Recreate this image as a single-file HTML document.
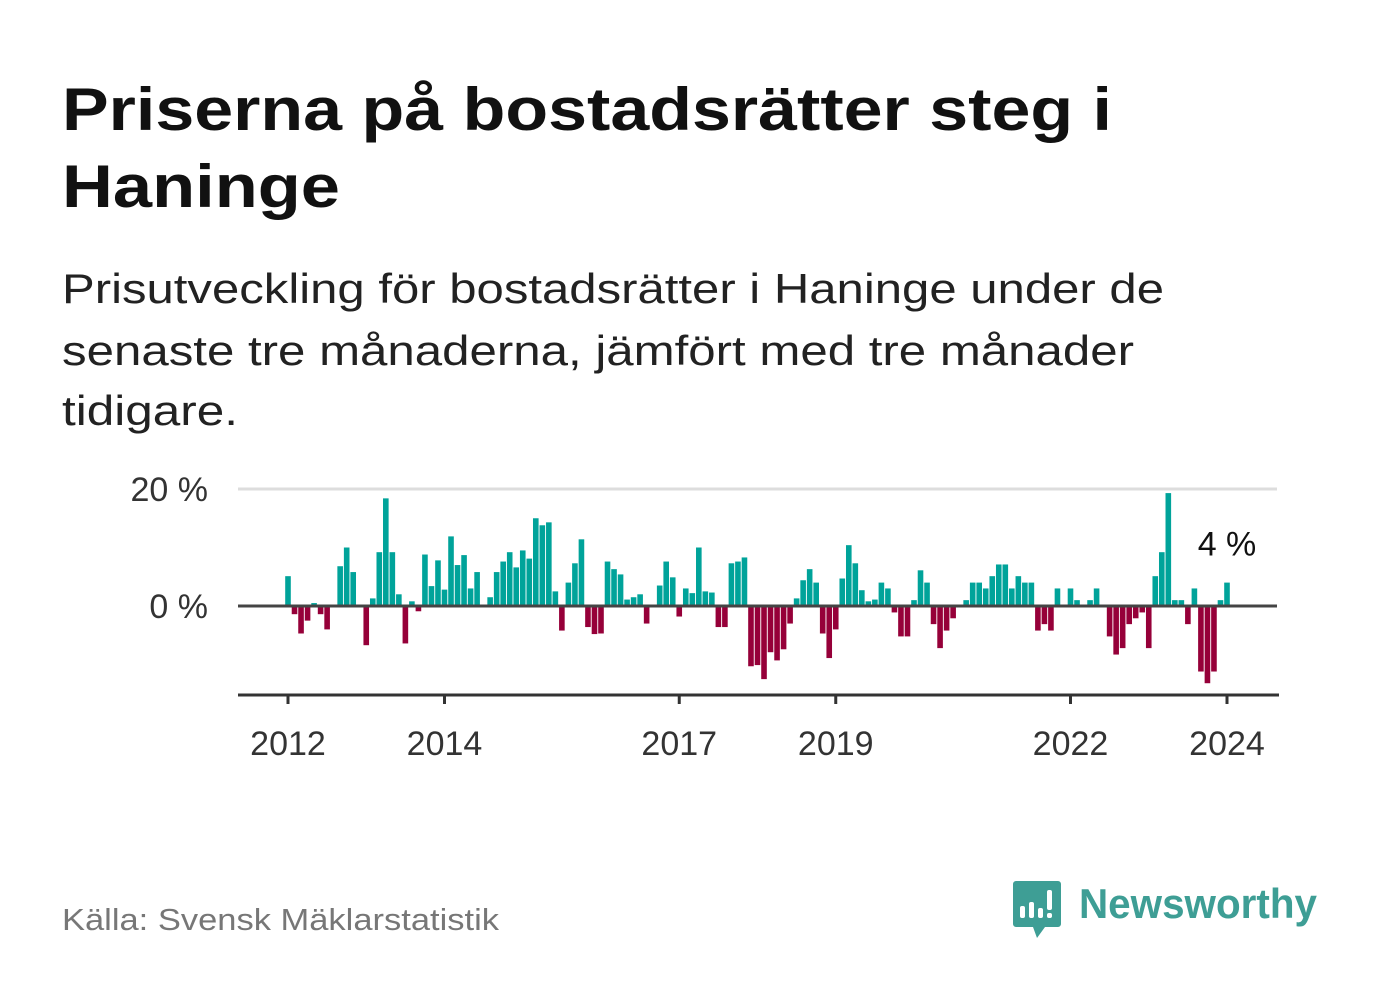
<!DOCTYPE html>
<html><head><meta charset="utf-8"><style>
html,body{margin:0;padding:0;background:#fff;}
svg{display:block;font-family:"Liberation Sans",sans-serif;}
</style></head><body>
<svg id="chart" width="1382" height="999" viewBox="0 0 1382 999">
<text x="62" y="130" font-size="60" font-weight="bold" fill="#111" textLength="1050" lengthAdjust="spacingAndGlyphs">Priserna på bostadsrätter steg i</text>
<text x="62" y="207" font-size="60" font-weight="bold" fill="#111" textLength="278" lengthAdjust="spacingAndGlyphs">Haninge</text>
<text x="62" y="303" font-size="42" fill="#222" textLength="1102" lengthAdjust="spacingAndGlyphs">Prisutveckling för bostadsrätter i Haninge under de</text>
<text x="62" y="365" font-size="42" fill="#222" textLength="1072" lengthAdjust="spacingAndGlyphs">senaste tre månaderna, jämfört med tre månader</text>
<text x="62" y="425" font-size="42" fill="#222" textLength="176" lengthAdjust="spacingAndGlyphs">tidigare.</text>
<g id="plot"></g>
<text x="62" y="930" font-size="31" fill="#777" textLength="437" lengthAdjust="spacingAndGlyphs">Källa: Svensk Mäklarstatistik</text>
<g>
<path d="M1016 881 h42 a3 3 0 0 1 3 3 v40 a3 3 0 0 1 -3 3 h-13 l-8 11 l-4 -11 h-17 a3 3 0 0 1 -3 -3 v-40 a3 3 0 0 1 3 -3z" fill="#3e9e95"/>
<rect x="1020" y="906" width="5" height="12" rx="2" fill="#fff"/>
<rect x="1029" y="902" width="5" height="16" rx="2" fill="#fff"/>
<rect x="1038" y="908" width="5" height="10" rx="2" fill="#fff"/>
<rect x="1047" y="890" width="5" height="20" rx="2" fill="#fff"/>
<rect x="1047" y="913" width="5" height="5" rx="2" fill="#fff"/>
<text x="1079" y="918" font-size="42" font-weight="bold" fill="#3e9e95" textLength="238" lengthAdjust="spacingAndGlyphs">Newsworthy</text>
</g>
</svg>
<script>
const values = [5.1,-1.4,-4.7,-2.5,0.5,-1.4,-4,0,6.8,10,5.8,0,
-6.7,1.3,9.2,18.4,9.2,2,-6.4,0.8,-0.9,8.8,3.4,7.8,
2.8,11.9,7,8.7,3,5.8,0,1.5,5.8,7.6,9.2,6.6,
9.5,8.1,15,13.8,14.3,2.5,-4.2,4,7.3,11.4,-3.6,-4.8,
-4.7,7.6,6.3,5.4,1.1,1.5,2,-3,0,3.5,7.6,4.9,
-1.8,3,2.2,10,2.5,2.3,-3.6,-3.6,7.3,7.6,8.3,-10.3,
-10.1,-12.5,-7.9,-9.3,-7.4,-3,1.3,4.4,6.3,4,-4.7,-8.9,
-4,4.7,10.4,7.3,2.7,0.8,1.1,4,3,-1.1,-5.2,-5.2,
1,6.1,4,-3.1,-7.2,-4.2,-2.1,0,1,4,4,3,
5.1,7.1,7.1,3,5.1,4,4,-4.2,-3.1,-4.2,3,0,
3,1,0,1,3,0,-5.2,-8.3,-7.2,-3.1,-2.1,-1.1,
-7.2,5.1,9.2,19.3,1,1,-3.1,3,-11.2,-13.2,-11.2,1,
4];
const startYear = 2012;
const yTicks = [0, 20];
const yTickLabels = ["0 %", "20 %"];
const xTickYears = [2012, 2014, 2017, 2019, 2022, 2024];
const lastLabel = "4 %";

const NS = "http://www.w3.org/2000/svg";
const plot = document.getElementById('plot');
const X0 = 288, PX_PER_MONTH = 939/144, Y0 = 606, PX_PER_PCT = 5.85;
const xScale = m => X0 + m * PX_PER_MONTH;
const yScale = v => Y0 - v * PX_PER_PCT;
function mk(tag, attrs){const e=document.createElementNS(NS,tag);for(const k in attrs)e.setAttribute(k,attrs[k]);plot.appendChild(e);return e;}

yTicks.forEach((t,i)=>{
  if(t!==0){
    const g = mk('line',{x1:238,x2:1277,y1:yScale(t),y2:yScale(t),stroke:'#ddd','stroke-width':3});
    
    
  }
  const tx = mk('text',{x:208,y:yScale(t)+12,'font-size':34,fill:'#333','text-anchor':'end'});
  tx.textContent = yTickLabels[i];
  
  
});

values.forEach((v,i)=>{
  if(v===0) return;
  const y = v>0 ? yScale(v) : Y0;
  const r = mk('rect',{x:xScale(i)-2.8,y:y,width:5.6,height:Math.abs(v)*PX_PER_PCT,fill:v>0?'#00a39a':'#960039'});
  
  
});

const zl = mk('line',{x1:238,x2:1277,y1:Y0,y2:Y0,stroke:'#444','stroke-width':3});



const ax = mk('line',{x1:238,x2:1279,y1:695,y2:695,stroke:'#333','stroke-width':3});



xTickYears.forEach(yr=>{
  const x = xScale((yr-startYear)*12);
  const tk = mk('line',{x1:x,x2:x,y1:695,y2:704,stroke:'#333','stroke-width':3});
  
  
  const t = mk('text',{x:x,y:755,'font-size':34,fill:'#333','text-anchor':'middle'});
  t.textContent = yr;
  
  
});

const li = values.length-1;
const lab = mk('text',{x:xScale(li),y:yScale(values[li])-27,'font-size':34,fill:'#111','text-anchor':'middle'});
lab.textContent = lastLabel;


</script>
</body></html>
